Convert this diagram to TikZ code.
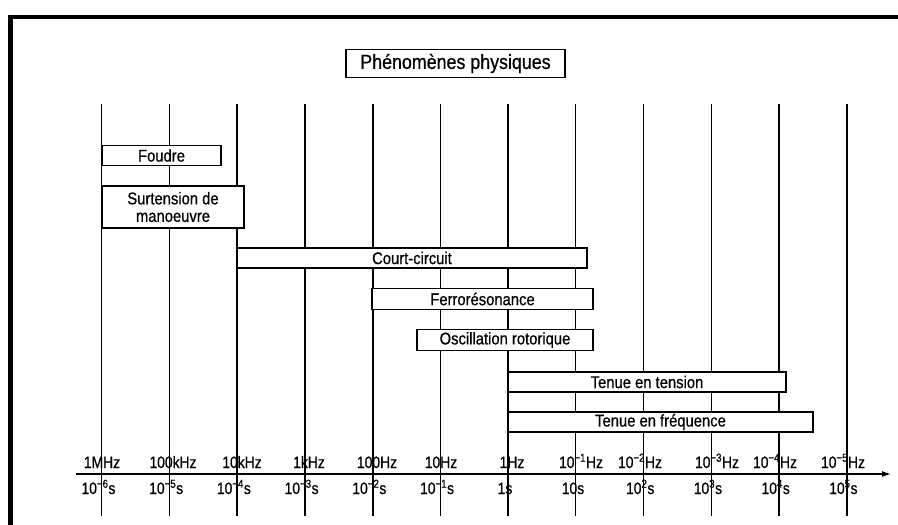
\documentclass[tikz,border=0pt]{standalone}
\usepackage{fontspec}
\setmainfont{Liberation Sans}
\newfontfamily\narrowsans[FakeStretch=0.87,FakeBold=0.6]{Liberation Sans}
\newfontfamily\axissans[FakeStretch=0.84,FakeBold=0.6]{Liberation Sans}
\usetikzlibrary{arrows.meta}
\tikzset{
  phen/.style={draw=black, fill=white, line width=1.3pt, inner sep=0pt,
    font=\narrowsans\fontsize{17}{17.5}\selectfont, align=center},
  titlebox/.style={draw=black, fill=white, line width=1.5pt, inner sep=0pt,
    font=\narrowsans\fontsize{20.5}{22}\selectfont},
  gridthin/.style={line width=1.1pt},
  gridthick/.style={line width=2pt},
  axislbl/.style={inner sep=0pt, anchor=base, font=\axissans\fontsize{16.5}{18}\selectfont},
  frameline/.style={line width=4.5pt}
}
% exponent centred on its grid line, mantissa and unit hanging outside
\newcommand{\tenpow}[2]{\llap{10}\textsuperscript{#1}\rlap{#2}}
\begin{document}
\begin{tikzpicture}[x=1pt, y=-1pt]
\useasboundingbox (0,0) rectangle (898,525);
\fill[white] (0,0) rectangle (898,525);

% outer frame (top and left edges)
\draw[frameline] (8,17) -- (898,17);
\draw[frameline, line width=5pt] (10.5,15) -- (10.5,525);

% decade grid lines
\foreach \i/\w in {0/gridthin,1/gridthin,2/gridthick,3/gridthick,4/gridthick,5/gridthin,
                   6/gridthin,7/gridthin,8/gridthin,9/gridthin,10/gridthick,11/gridthick}{
  \coordinate (top\i) at ({101.7+67.72*\i},104);
  \coordinate (bot\i) at ({101.7+67.72*\i},516);
  \draw[\w] (top\i) -- (bot\i);
}

% frequency / time axis
\coordinate (axstart) at (76,474);
\coordinate (axend) at (891,474);
\draw[line width=1.2pt, -{Latex[length=9pt,width=6pt]}] (axstart) -- (axend);

% frequency labels
\node[axislbl] (f0) at (102,468) {1MHz};
\node[axislbl] (f1) at (173,468) {100kHz};
\node[axislbl] (f2) at (242,468) {10kHz};
\node[axislbl] (f3) at (309,468) {1kHz};
\node[axislbl] (f4) at (377,468) {100Hz};
\node[axislbl] (f5) at (441,468) {10Hz};
\node[axislbl] (f6) at (512,468) {1Hz};
\node[axislbl] (f7) at (581,468) {10\textsuperscript{−1}Hz};
\node[axislbl] (f8) at (640,468) {10\textsuperscript{−2}Hz};
\node[axislbl] (f9) at (717,468) {10\textsuperscript{−3}Hz};
\node[axislbl] (f10) at (775,468) {10\textsuperscript{−4}Hz};
\node[axislbl] (f11) at (843,468) {10\textsuperscript{−5}Hz};

% period labels
\foreach \i/\e in {0/−6, 1/−5, 2/−4, 3/−3, 4/−2, 5/−1, 8/2, 9/3, 10/4, 11/5}{
  \node[axislbl] (t\i) at ({101.7+67.72*\i+1},494) {\tenpow{\e}{s}};
}
\node[axislbl] (t6) at (505,494) {1s};
\node[axislbl] (t7) at (573,494) {10s};

% title
\node[titlebox, minimum width=219pt, minimum height=28pt] (title) at (455.5,63.5) {Phénomènes physiques};

% phenomena bars
\node[phen, minimum width=119pt, minimum height=20pt] (foudre) at (161.5,155.5) {Foudre};
\node[phen, minimum width=142pt, minimum height=42pt] (manoeuvre) at (173,207) {Surtension de\\manoeuvre};
\node[phen, minimum width=350pt, minimum height=20pt] (cc) at (412,258) {Court-circuit};
\node[phen, minimum width=221pt, minimum height=21pt] (ferro) at (482.5,299) {Ferrorésonance};
\node[phen, minimum width=176pt, minimum height=21pt] (osc) at (505,340) {Oscillation rotorique};
\node[phen, minimum width=278pt, minimum height=20pt] (tension) at (647,382) {Tenue en tension};
\node[phen, minimum width=305pt, minimum height=20pt] (freq) at (660.5,422) {Tenue en fréquence};
\end{tikzpicture}
\end{document}
